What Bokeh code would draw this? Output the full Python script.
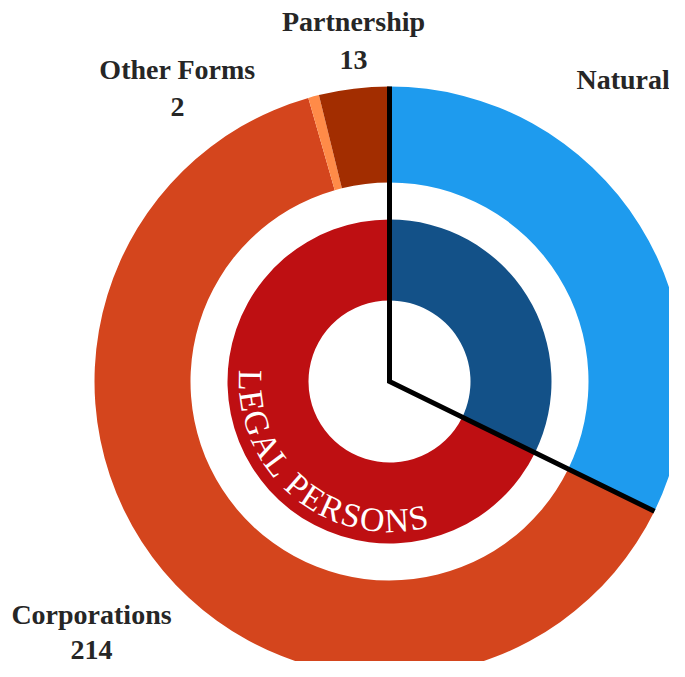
import math
from bokeh.plotting import figure
from bokeh.models import Range1d, ColumnDataSource
from bokeh.core.properties import value
from bokeh.embed import file_html
from bokeh.resources import INLINE

# ---- data ----
outer_labels = ["Natural Persons", "Corporations", "Other Forms", "Partnership"]
outer_values = [109, 214, 2, 13]
outer_parent = ["Natural Persons", "Legal Persons", "Legal Persons", "Legal Persons"]
inner_labels = ["Natural Persons", "Legal Persons"]
inner_values = [sum(v for v, g in zip(outer_values, outer_parent) if g == lab) for lab in inner_labels]

outer_colors = ["#1E9BEE", "#D4451D", "#FF8B48", "#A22D00"]
inner_colors = ["#135188", "#BE0F12"]

# ---- geometry (pixel-like data units, y up) ----
W, H = 669, 661
def sy(y):
    return H - y

cx, cy = 389, sy(381)
R_OUT, R_OUT_IN = 295, 199
R_IN, R_IN_IN = 162, 81

total = sum(outer_values)

def wedge_angles(values):
    starts, ends = [], []
    cum = 0.0
    for v in values:
        a0 = math.pi / 2 - 2 * math.pi * (cum + v) / total
        a1 = math.pi / 2 - 2 * math.pi * cum / total
        starts.append(a0)
        ends.append(a1)
        cum += v
    return starts, ends

o_start, o_end = wedge_angles(outer_values)
i_start, i_end = wedge_angles(inner_values)

p = figure(width=W, height=H, x_range=Range1d(0, W), y_range=Range1d(0, H),
           output_backend="svg", toolbar_location=None, min_border=0,
           min_border_left=0, min_border_right=0, min_border_top=0, min_border_bottom=0)
p.axis.visible = False
p.grid.visible = False
p.outline_line_color = None
p.background_fill_color = "white"
p.border_fill_color = "white"

src_o = ColumnDataSource(dict(start=o_start, end=o_end, color=outer_colors, label=outer_labels, val=outer_values))
p.annular_wedge(x=cx, y=cy, inner_radius=R_OUT_IN, outer_radius=R_OUT, start_angle="start", end_angle="end",
                fill_color="color", line_color=None, source=src_o, direction="anticlock")

src_i = ColumnDataSource(dict(start=i_start, end=i_end, color=inner_colors, label=inner_labels, val=inner_values))
p.annular_wedge(x=cx, y=cy, inner_radius=R_IN_IN, outer_radius=R_IN, start_angle="start", end_angle="end",
                fill_color="color", line_color=None, source=src_i, direction="anticlock")

# boundary line between natural and legal persons
a_nat = i_start[0]
p.line(x=[cx, cx, cx + R_OUT * math.cos(a_nat)],
       y=[cy + R_OUT, cy, cy + R_OUT * math.sin(a_nat)],
       line_color="black", line_width=5, line_join="miter")

# ---- outer labels ----
label_font = value("Liberation Serif")
FIX = 10  # rendered baseline sits lower than requested
label_pos = {
    "Partnership": (353, 31, 69, "center"),
    "Other Forms": (177, 79, 116, "center"),
    "Corporations": (91, 624, 659, "center"),
}
for lab, v in zip(outer_labels, outer_values):
    if lab in label_pos:
        x, b1, b2, al = label_pos[lab]
        p.text(x=[x, x], y=[sy(b1 - FIX), sy(b2 - FIX)], text=[lab, str(v)], text_font=label_font,
               text_font_size="28px", text_font_style="bold", text_color="#262626",
               text_align=al, text_baseline="alphabetic")
    else:
        p.text(x=[576], y=[sy(89 - FIX)], text=[lab], text_font=label_font,
               text_font_size="28px", text_font_style="bold", text_color="#262626",
               text_align="left", text_baseline="alphabetic")

# ---- curved "LEGAL PERSONS" ----
curved = inner_labels[1].upper()
times_w = {"L": 611, "E": 611, "G": 722, "A": 722, " ": 250, "P": 556, "R": 667,
           "S": 556, "O": 722, "N": 722}
fs = 34
spacing = 0.8
r_base = 151 - 12
adv = [times_w.get(ch, 600) * fs / 1000 + spacing for ch in curved]
Ltot = sum(adv) - spacing
mid = math.radians(230.5)
theta0 = mid - Ltot / (2 * 145)
xs, ys, angs, chars = [], [], [], []
s = 0.0
for ch, a in zip(curved, adv):
    w = a - spacing
    th = theta0 + (s + w / 2) / 145
    s += a
    if ch == " ":
        continue
    xs.append(cx + r_base * math.cos(th))
    ys.append(cy + r_base * math.sin(th))
    angs.append(th + math.pi / 2)
    chars.append(ch)
p.text(x=xs, y=ys, text=chars, angle=angs, text_font=label_font, text_font_size=f"{fs}px",
       text_color="white", text_align="center", text_baseline="alphabetic")

open("out.html", "w").write(file_html(p, INLINE))
